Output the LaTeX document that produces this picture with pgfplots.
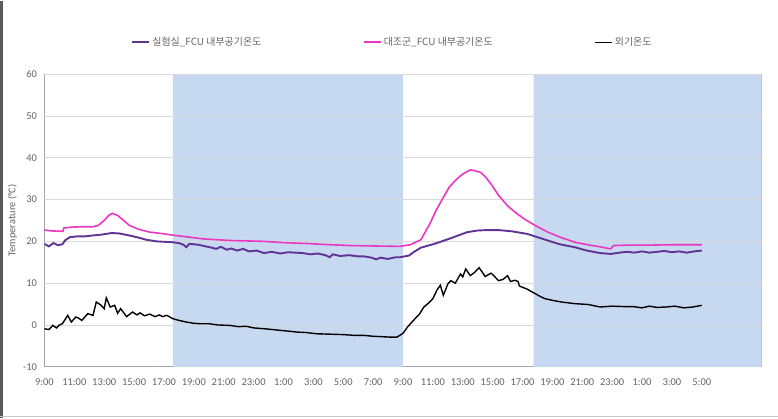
\documentclass[border=0pt]{standalone}
\usepackage{pgfplots}
\pgfplotsset{compat=1.18}
\usepackage{fontspec}
\setmainfont{Carlito}
\newfontfamily\cjk{Noto Sans CJK KR}
\definecolor{purp}{RGB}{95,52,148}
\definecolor{pnk}{RGB}{235,55,195}
\definecolor{shade}{RGB}{198,217,240}
\definecolor{txt}{RGB}{100,100,100}
\definecolor{gridc}{RGB}{217,217,217}
\definecolor{boxc}{RGB}{165,165,172}

\pgfplotstableread{
h t
0 19.4
0.3 18.8
0.6 19.6
0.9 19.1
1.2 19.3
1.4 20.3
1.7 21.0
2.2 21.2
2.7 21.2
3.2 21.4
3.8 21.6
4.5 22.0
5.0 21.9
5.7 21.4
6.3 20.9
6.8 20.4
7.5 20.0
8.0 19.9
8.57 19.8
9.0 19.6
9.3 19.2
9.5 18.6
9.7 19.4
10.3 19.2
10.8 18.8
11.2 18.5
11.5 18.2
11.8 18.7
12.2 18.0
12.5 18.3
12.9 17.8
13.3 18.2
13.7 17.6
14.2 17.8
14.7 17.2
15.2 17.5
15.8 17.1
16.3 17.4
17.3 17.2
17.8 16.9
18.3 17.1
18.8 16.7
19.1 16.2
19.3 16.9
19.8 16.5
20.4 16.7
21.0 16.4
21.4 16.4
21.9 16.1
22.2 15.7
22.5 16.1
23.0 15.8
23.5 16.2
23.8 16.2
24.4 16.6
24.7 17.4
25.2 18.5
26.1 19.4
27.0 20.5
28.3 22.2
29.0 22.6
29.6 22.7
30.4 22.7
31.3 22.4
32.3 21.8
33.0 21.0
33.7 20.2
34.5 19.3
35.5 18.6
36.3 17.8
37.2 17.2
37.9 17.0
38.5 17.3
39.0 17.5
39.5 17.3
40.0 17.6
40.5 17.3
41.0 17.5
41.5 17.7
42.0 17.4
42.5 17.6
43.0 17.3
43.5 17.6
44.0 17.8
}\lab

\pgfplotstableread{
h t
0 22.7
0.5 22.5
1.23 22.4
1.3 23.2
1.8 23.4
2.5 23.5
3.24 23.5
3.6 23.8
4.0 25.0
4.3 26.2
4.54 26.7
4.9 26.2
5.3 25.0
5.7 23.8
6.3 22.9
7.05 22.2
7.8 21.9
8.57 21.5
9.5 21.1
10.6 20.6
11.5 20.4
12.5 20.2
13.6 20.1
14.7 20.0
16.0 19.7
17.5 19.5
19.1 19.2
20.5 19.0
22.0 18.9
23.8 18.8
24.5 19.2
25.2 20.4
25.8 24.2
26.2 27.3
26.7 30.5
27.1 33.0
27.6 34.9
28.0 36.1
28.5 37.1
28.8 36.9
29.2 36.5
29.5 35.5
29.9 33.7
30.4 31.0
31.0 28.5
31.5 27.0
32.1 25.4
32.9 23.7
33.7 22.2
34.6 20.9
35.5 19.8
36.5 19.1
37.2 18.7
37.9 18.2
38.1 19.0
39.0 19.1
40.5 19.1
42.0 19.2
44.0 19.2
}\ctrl

\pgfplotstableread{
h t
0 -0.9
0.3 -1.1
0.56 -0.1
0.8 -0.7
1.0 0.0
1.2 0.3
1.56 2.3
1.8 0.7
2.1 1.9
2.3 1.6
2.5 1.1
2.9 2.7
3.25 2.3
3.47 5.5
3.8 4.7
4.0 3.9
4.14 6.5
4.4 4.3
4.7 4.7
4.9 2.8
5.1 3.9
5.5 2.0
5.9 3.1
6.2 2.4
6.4 2.9
6.7 2.2
7.05 2.6
7.4 2.0
7.7 2.4
7.9 2.0
8.2 2.3
8.4 1.9
8.6 1.5
9.0 1.1
9.5 0.7
10.0 0.4
10.4 0.3
11.0 0.3
11.6 0.0
12.4 -0.1
13.0 -0.4
13.5 -0.3
14.0 -0.7
14.7 -0.9
15.3 -1.1
15.8 -1.3
16.4 -1.5
16.9 -1.7
17.5 -1.8
18.2 -2.1
19.1 -2.2
20.0 -2.3
20.8 -2.5
21.4 -2.5
22.0 -2.7
22.6 -2.8
23.1 -2.9
23.6 -2.9
24.0 -2.0
24.3 -0.5
24.7 1.1
25.1 2.6
25.4 4.3
25.7 5.2
26.0 6.3
26.3 8.5
26.5 9.5
26.7 7.1
27.0 9.8
27.2 10.6
27.5 10.0
27.85 12.2
28.0 11.5
28.2 13.4
28.5 11.8
28.8 12.6
29.1 13.7
29.5 11.6
29.9 12.4
30.1 11.7
30.4 10.6
30.7 10.9
31.0 11.8
31.2 10.4
31.5 10.7
31.7 10.4
31.8 9.3
32.3 8.6
32.8 7.6
33.2 6.8
33.5 6.3
34.0 5.9
34.6 5.5
35.5 5.1
36.4 4.9
37.2 4.3
38.0 4.5
38.8 4.4
39.4 4.4
40.0 4.1
40.5 4.5
41.0 4.2
41.6 4.3
42.2 4.5
42.8 4.1
43.4 4.3
44.0 4.7
}\outside

\begin{document}
\begin{tikzpicture}
\fill[white] (-44bp,-51bp) rectangle (734bp,366bp);
\draw[gray!70!black, line width=2.5bp] (-42.75bp,-51bp) -- (-42.75bp,366bp);
\draw[gray!45, line width=1bp] (-44bp,-49.5bp) -- (734bp,-49.5bp);
\begin{axis}[
  at={(0,0)}, anchor=south west,
  scale only axis, width=718bp, height=293bp,
  xmin=0, xmax=48, ymin=-10, ymax=60,
  ytick={-10,0,...,60},
  xtick={0,2,...,44},
  xticklabels={9:00,11:00,13:00,15:00,17:00,19:00,21:00,23:00,1:00,3:00,5:00,7:00,9:00,11:00,13:00,15:00,17:00,19:00,21:00,23:00,1:00,3:00,5:00},
  axis line style={boxc, line width=0.9bp},
  tick style={draw=none},
  ticklabel style={font=\fontsize{10.5}{12}\selectfont, text=txt},
  xticklabel style={yshift=-8bp},
  yticklabel style={xshift=-4bp},
  /pgf/number format/assume math mode=true,
  ylabel={Temperature (°C)},
  ylabel style={font=\fontsize{10.5}{12}\selectfont, text=txt, at={(axis description cs:-0.0446,0.5)}, anchor=center},
  legend style={at={(0.1170,1.109)}, anchor=west, draw=none, fill=none,
    legend columns=3, font=\cjk\fontsize{10}{12}\selectfont, text=txt,
    /tikz/every even column/.append style={column sep=100bp}},
  legend image code/.code={\draw[#1] (0bp,0bp) -- (17bp,0bp);},
]
\addplot[fill=shade, draw=none, forget plot] coordinates {(8.6,-10) (8.6,60) (24,60) (24,-10) (8.6,-10)};
\addplot[fill=shade, draw=none, forget plot] coordinates {(32.75,-10) (32.75,60) (48,60) (48,-10) (32.75,-10)};
\pgfplotsinvokeforeach{0,10,...,60}{\addplot[gridc, line width=0.6bp, forget plot] coordinates {(0,#1) (48,#1)};}
\addplot[purp, line width=1.9bp] table[x=h,y=t] {\lab};
\addlegendentry{실험실\_FCU 내부공기온도}
\addplot[pnk, line width=1.6bp] table[x=h,y=t] {\ctrl};
\addlegendentry{대조군\_FCU 내부공기온도}
\addplot[black, line width=1.4bp] table[x=h,y=t] {\outside};
\addlegendentry{외기온도}
\end{axis}
\end{tikzpicture}
\end{document}
